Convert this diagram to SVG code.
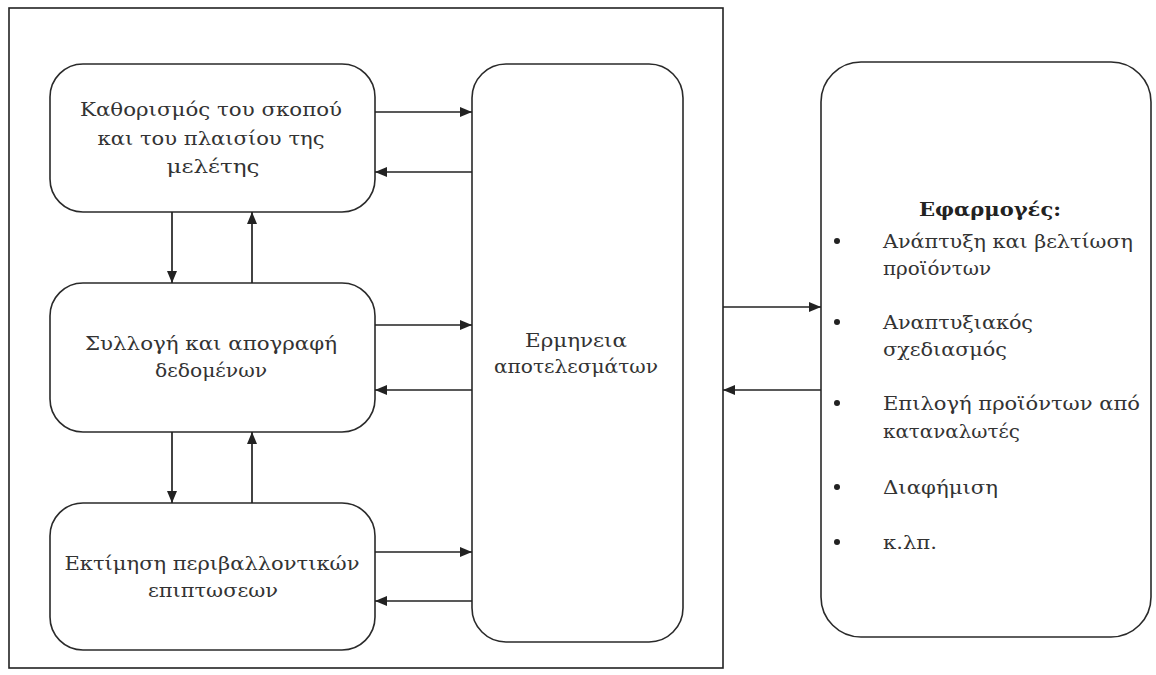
<svg xmlns="http://www.w3.org/2000/svg" width="1156" height="675" viewBox="0 0 1156 675">
<style>
.bg{fill:#ffffff}
.frame{fill:none;stroke:#222;stroke-width:1.6}
.box{fill:#ffffff;stroke:#2a2a2a;stroke-width:1.6}
.t{font-family:"DejaVu Serif","Liberation Serif",serif;font-size:19px;fill:#333;text-anchor:middle}
.tl{font-family:"DejaVu Serif","Liberation Serif",serif;font-size:19px;fill:#333}
.h{font-family:"DejaVu Serif","Liberation Serif",serif;font-size:19px;font-weight:bold;fill:#222;text-anchor:middle}
.c{fill:none;stroke:#222;stroke-width:1.7}
.dot{fill:#222}
</style>
<defs>
<marker id="ah" markerUnits="userSpaceOnUse" markerWidth="13" markerHeight="12" refX="12" refY="6" orient="auto">
<path d="M0,1 L12,6 L0,11 z" fill="#222"/>
</marker>
</defs>
<rect class="bg" x="0" y="0" width="1156" height="675"/>
<rect id="frame" class="frame" x="9" y="8" width="714" height="660"/>

<g id="node-scope">
<rect class="box" x="50" y="64" width="325" height="148" rx="33" ry="33"/>
<text class="t" x="211" y="116" textLength="262" lengthAdjust="spacingAndGlyphs">Καθορισμός του σκοπού</text>
<text class="t" x="211" y="145" textLength="227" lengthAdjust="spacingAndGlyphs">και του πλαισίου της</text>
<text class="t" x="213" y="173" textLength="93" lengthAdjust="spacingAndGlyphs">μελέτης</text>
</g>

<g id="node-data">
<rect class="box" x="50" y="283" width="325" height="149" rx="33" ry="33"/>
<text class="t" x="211" y="350" textLength="252" lengthAdjust="spacingAndGlyphs">Συλλογή και απογραφή</text>
<text class="t" x="211" y="377" textLength="112" lengthAdjust="spacingAndGlyphs">δεδομένων</text>
</g>

<g id="node-impact">
<rect class="box" x="50" y="503" width="325" height="147" rx="33" ry="33"/>
<text class="t" x="212" y="570" textLength="295" lengthAdjust="spacingAndGlyphs">Εκτίμηση περιβαλλοντικών</text>
<text class="t" x="213" y="597" textLength="130" lengthAdjust="spacingAndGlyphs">επιπτωσεων</text>
</g>

<g id="node-interpretation">
<rect class="box" x="472" y="64" width="211" height="578" rx="34" ry="34"/>
<text class="t" x="576" y="347" textLength="102" lengthAdjust="spacingAndGlyphs">Ερμηνεια</text>
<text class="t" x="576" y="373" textLength="164" lengthAdjust="spacingAndGlyphs">αποτελεσμάτων</text>
</g>

<g id="node-applications">
<rect class="box" x="821" y="62" width="330" height="575" rx="40" ry="40"/>
<text class="h" x="990" y="216" textLength="142" lengthAdjust="spacingAndGlyphs">Εφαρμογές:</text>
<circle class="dot" cx="837" cy="241" r="3"/>
<text class="tl" x="883" y="248" textLength="250" lengthAdjust="spacingAndGlyphs">Ανάπτυξη και βελτίωση</text>
<text class="tl" x="883" y="275" textLength="108" lengthAdjust="spacingAndGlyphs">προϊόντων</text>
<circle class="dot" cx="837" cy="322" r="3"/>
<text class="tl" x="883" y="329" textLength="150" lengthAdjust="spacingAndGlyphs">Αναπτυξιακός</text>
<text class="tl" x="883" y="356" textLength="124" lengthAdjust="spacingAndGlyphs">σχεδιασμός</text>
<circle class="dot" cx="837" cy="403" r="3"/>
<text class="tl" x="883" y="410" textLength="257" lengthAdjust="spacingAndGlyphs">Επιλογή προϊόντων από</text>
<text class="tl" x="883" y="438" textLength="137" lengthAdjust="spacingAndGlyphs">καταναλωτές</text>
<circle class="dot" cx="837" cy="487" r="3"/>
<text class="tl" x="883" y="494" textLength="115" lengthAdjust="spacingAndGlyphs">Διαφήμιση</text>
<circle class="dot" cx="837" cy="542" r="3"/>
<text class="tl" x="883" y="549" textLength="54" lengthAdjust="spacingAndGlyphs">κ.λπ.</text>
</g>

<g id="connectors">
<line class="c" x1="375" y1="112" x2="472" y2="112" marker-end="url(#ah)"/>
<line class="c" x1="472" y1="172" x2="375" y2="172" marker-end="url(#ah)"/>
<line class="c" x1="375" y1="325" x2="472" y2="325" marker-end="url(#ah)"/>
<line class="c" x1="472" y1="390" x2="375" y2="390" marker-end="url(#ah)"/>
<line class="c" x1="375" y1="552" x2="472" y2="552" marker-end="url(#ah)"/>
<line class="c" x1="472" y1="601" x2="375" y2="601" marker-end="url(#ah)"/>
<line class="c" x1="172" y1="212" x2="172" y2="283" marker-end="url(#ah)"/>
<line class="c" x1="252" y1="283" x2="252" y2="212" marker-end="url(#ah)"/>
<line class="c" x1="172" y1="432" x2="172" y2="503" marker-end="url(#ah)"/>
<line class="c" x1="252" y1="503" x2="252" y2="432" marker-end="url(#ah)"/>
<line class="c" x1="723" y1="307" x2="821" y2="307" marker-end="url(#ah)"/>
<line class="c" x1="821" y1="390" x2="723" y2="390" marker-end="url(#ah)"/>
</g>
</svg>
